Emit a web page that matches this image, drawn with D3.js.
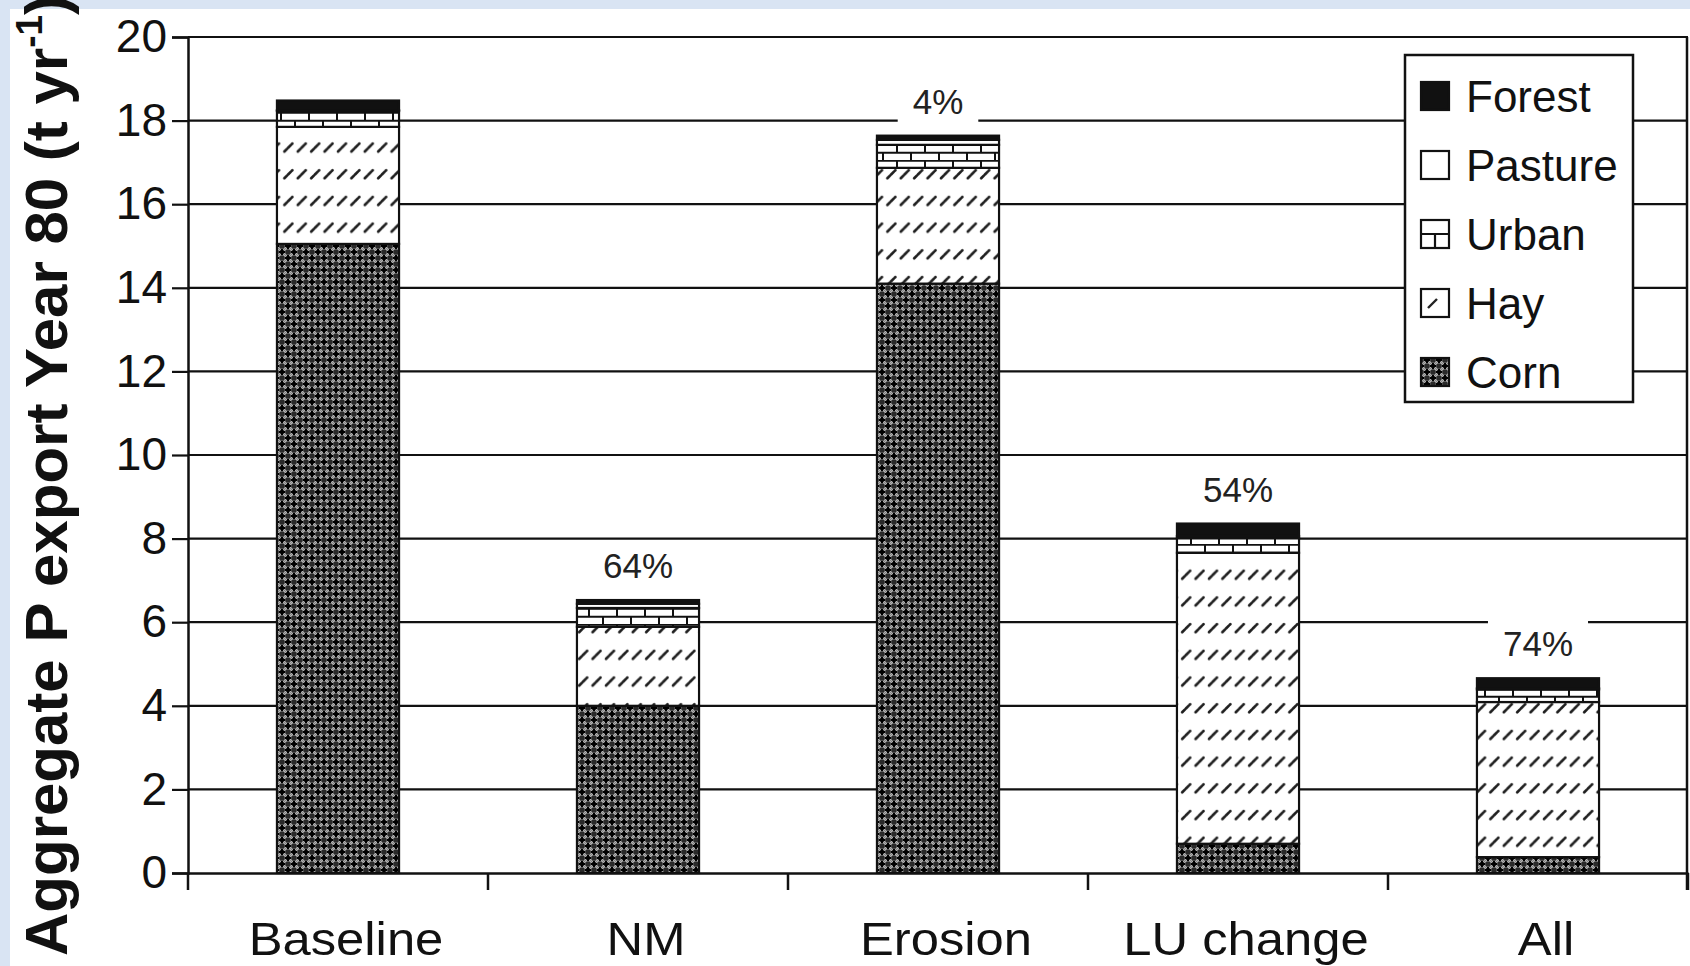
<!DOCTYPE html>
<html>
<head>
<meta charset="utf-8">
<script src="https://cdn.jsdelivr.net/npm/d3@7"></script>
<style>
    html, body { margin: 0; padding: 0; background: #fff; }
    svg { display: block; font-family: "Liberation Sans", Arial, sans-serif; }
</style>
</head>
<body>
<svg id="chart" width="1690" height="966"></svg>
<script>
// DATA
var categories = ["Baseline", "NM", "Erosion", "LU change", "All"];
var corn    = [15.05, 4.00, 14.10, 0.70, 0.38];
var hay     = [2.80, 1.89, 2.77, 6.96, 3.71];
var urban   = [0.38, 0.45, 0.55, 0.35, 0.30];
var pasture = [0.02, 0.10, 0.12, 0.05, 0.03];
var forest  = [0.23, 0.09, 0.10, 0.30, 0.24];
var reduction = ["", "64%", "4%", "54%", "74%"];
var yTicks = [0, 2, 4, 6, 8, 10, 12, 14, 16, 18, 20];
var keys = ["Corn", "Hay", "Urban", "Pasture", "Forest"];
var legendOrder = ["Forest", "Pasture", "Urban", "Hay", "Corn"];

var rows = categories.map(function (c, i) {
    return { cat: c, Corn: corn[i], Hay: hay[i], Urban: urban[i], Pasture: pasture[i], Forest: forest[i], pct: reduction[i] };
});

var padLeft = 188, padRight = 1688, padTop = 37, padBottom = 873;

var svg = d3.select("#chart");

// light blue frame of the original figure
svg.append("rect").attr("x", 0).attr("y", 0).attr("width", 1690).attr("height", 966).attr("fill", "#d9e4f3");
svg.append("rect").attr("x", 10).attr("y", 9).attr("width", 1680).attr("height", 957).attr("fill", "#fff");

//PATTERNS
var defs = svg.append("defs");

var pc = defs.append("pattern").attr("id", "pat-corn").attr("patternUnits", "userSpaceOnUse")
    .attr("width", 12).attr("height", 12);
pc.append("rect").attr("width", 12).attr("height", 12).attr("fill", "#2a2a2a");
[[6, 6], [0, 0], [12, 0], [0, 12], [12, 12]].forEach(function (p) {
    pc.append("circle").attr("cx", p[0]).attr("cy", p[1]).attr("r", 3.6)
        .attr("fill", "none").attr("stroke", "#b4b4b4").attr("stroke-width", 1.5);
});
[[6, 0], [0, 6], [12, 6], [6, 12]].forEach(function (p) {
    pc.append("path").attr("d", "M" + (p[0] - 3) + "," + p[1] + "h6M" + p[0] + "," + (p[1] - 3) + "v6")
        .attr("stroke", "#000").attr("stroke-width", 2);
});

var ph = defs.append("pattern").attr("id", "pat-hay").attr("patternUnits", "userSpaceOnUse")
    .attr("width", 13.4).attr("height", 26.7);
ph.append("rect").attr("width", 13.4).attr("height", 26.7).attr("fill", "#fff");
ph.append("line").attr("x1", 3).attr("y1", 18).attr("x2", 11).attr("y2", 10)
    .attr("stroke", "#1e1e1e").attr("stroke-width", 2.7).attr("stroke-linecap", "round")
    .attr("stroke-dasharray", "4,1.2");

var pu = defs.append("pattern").attr("id", "pat-urban").attr("patternUnits", "userSpaceOnUse")
    .attr("width", 28).attr("height", 16);
pu.append("rect").attr("width", 28).attr("height", 16).attr("fill", "#fff");
pu.append("path").attr("d", "M0,0.8h28M0,8.8h28M1,0v8M15,8v8")
    .attr("stroke", "#111").attr("stroke-width", 2);

var fills = { Corn: "url(#pat-corn)", Hay: "url(#pat-hay)", Urban: "url(#pat-urban)", Pasture: "#fff", Forest: "#111" };

//SCALES
var x = d3.scaleBand().domain(categories).range([padLeft, padRight])
    .paddingInner(0.593).paddingOuter(0.2965);
var y = d3.scaleLinear().domain([0, 20]).range([padBottom, padTop]);

// gridlines
svg.append("g").selectAll("line")
    .data(yTicks.slice(1))
    .enter()
    .append("line")
    .attr("x1", padLeft).attr("x2", padRight)
    .attr("y1", function (d) { return y(d); })
    .attr("y2", function (d) { return y(d); })
    .attr("stroke", "#111").attr("stroke-width", 2.2);

// right frame
svg.append("line").attr("x1", padRight - 1).attr("x2", padRight - 1).attr("y1", y(20)).attr("y2", y(0) + 17)
    .attr("stroke", "#111").attr("stroke-width", 2.5);

// reduction labels (white boxes break the gridlines)
var lab = svg.append("g").selectAll("g")
    .data(rows.filter(function (d) { return d.pct !== ""; }))
    .enter()
    .append("g")
    .attr("transform", function (d) {
        var total = d.Corn + d.Hay + d.Urban + d.Pasture + d.Forest;
        return "translate(" + (x(d.cat) + x.bandwidth() / 2) + "," + (y(total) - 22) + ")";
    });
lab.append("text")
    .attr("text-anchor", "middle")
    .attr("font-size", 35)
    .attr("fill", "#222")
    .text(function (d) { return d.pct; })
    .each(function () {
        var bb = this.getBBox();
        d3.select(this.parentNode).insert("rect", "text")
            .attr("x", bb.x - 15).attr("y", -37)
            .attr("width", bb.width + 30).attr("height", 47)
            .attr("fill", "#fff");
    });

//BARS
var stack = d3.stack().keys(keys)(rows);

var layers = svg.append("g").selectAll("g")
    .data(stack)
    .enter()
    .append("g")
    .attr("fill", function (d) { return fills[d.key]; });

layers.selectAll("rect")
    .data(function (d) { return d; })
    .enter()
    .append("rect")
    .attr("x", function (d) { return x(d.data.cat); })
    .attr("width", x.bandwidth())
    .attr("y", function (d) { return y(d[1]); })
    .attr("height", function (d) { return y(d[0]) - y(d[1]); })
    .attr("stroke", "#111")
    .attr("stroke-width", 2.2);

//AXES
var yAxis = d3.axisLeft(y).tickValues(yTicks).tickSize(16).tickPadding(5).tickFormat(d3.format("d"));
var gy = svg.append("g")
    .attr("transform", "translate(" + padLeft + ",0)")
    .call(yAxis);
gy.select(".domain").attr("stroke", "#111").attr("stroke-width", 2.5);
gy.selectAll(".tick line").attr("stroke", "#111").attr("stroke-width", 2.2);
gy.selectAll("text").attr("font-size", 46).attr("fill", "#111").attr("font-family", "Liberation Sans, Arial, sans-serif");

var xAxis = d3.axisBottom(x).tickSize(0).tickPadding(60);
var gx = svg.append("g")
    .attr("transform", "translate(0," + padBottom + ")")
    .call(xAxis);
gx.select(".domain").attr("stroke", "#111").attr("stroke-width", 2.5);
gx.selectAll("text").attr("font-size", 47).attr("fill", "#111").attr("font-family", "Liberation Sans, Arial, sans-serif")
    .attr("dy", 0).attr("y", 82)
    .attr("transform", "translate(8,0) scale(1.08,1)");

// category separators below the axis
var bounds = categories.map(function (c) { return x(c) - x.step() * x.paddingInner() / 2; }).concat([padRight]);
gx.selectAll(".sep")
    .data(bounds)
    .enter()
    .append("line")
    .attr("class", "sep")
    .attr("x1", function (d) { return d; }).attr("x2", function (d) { return d; })
    .attr("y1", 0).attr("y2", 17)
    .attr("stroke", "#111").attr("stroke-width", 2.5);

// y title
var title = svg.append("text")
    .attr("transform", "translate(67,956) rotate(-90)")
    .attr("font-size", 60)
    .attr("font-weight", "bold")
    .attr("fill", "#111");
title.append("tspan").text("Aggregate P export Year 80 (t yr");
title.append("tspan").attr("font-size", 37).attr("dy", -25).text("-1");
title.append("tspan").attr("dy", 25).text(")");

//LEGEND
var legend = svg.append("g");
legend.append("rect")
    .attr("x", 1405).attr("y", 55).attr("width", 228).attr("height", 347)
    .attr("fill", "#fff").attr("stroke", "#111").attr("stroke-width", 2.5);

var item = legend.selectAll(".item")
    .data(legendOrder)
    .enter()
    .append("g")
    .attr("class", "item")
    .attr("transform", function (d, i) { return "translate(1421," + (96 + i * 69) + ")"; });

item.append("rect")
    .attr("x", 0).attr("y", -14).attr("width", 28).attr("height", 28)
    .attr("fill", function (d) { return d === "Hay" || d === "Urban" ? "#fff" : fills[d]; })
    .attr("stroke", "#111").attr("stroke-width", 2.2);
item.filter(function (d) { return d === "Urban"; })
    .append("path").attr("d", "M0,0h28M14,0v14")
    .attr("stroke", "#111").attr("stroke-width", 2.2);
item.filter(function (d) { return d === "Hay"; })
    .append("path").attr("d", "M7,5L16,-4")
    .attr("stroke", "#222").attr("stroke-width", 2.4);

item.append("text")
    .attr("x", 45).attr("dy", "0.36em")
    .attr("font-size", 44)
    .attr("fill", "#111")
    .text(function (d) { return d; });
</script>
</body>
</html>
